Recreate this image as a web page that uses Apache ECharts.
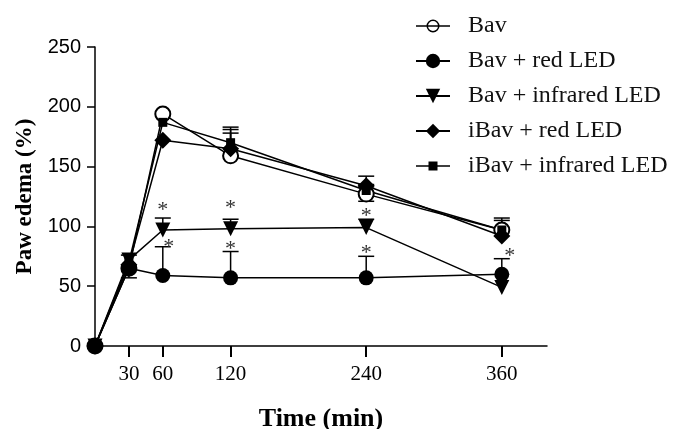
<!DOCTYPE html>
<html><head><meta charset="utf-8">
<script src="https://cdn.jsdelivr.net/npm/echarts@6/dist/echarts.min.js"></script>
<style>html,body{margin:0;padding:0;background:#fff}#c{width:675px;height:429px}</style>
</head><body><div id="c"></div>
<script>
const times = [0, 30, 60, 120, 240, 360];
const xTicks = [30, 60, 120, 240, 360];
const seriesNames = ['Bav', 'Bav + red LED', 'Bav + infrared LED', 'iBav + red LED', 'iBav + infrared LED'];
const bav     = [0, 65, 194, 159, 127, 97];
const bavRed  = [0, 65, 59, 57, 57, 60];
const bavIR   = [0, 72, 97, 98, 99, 49];
const ibavRed = [0, 68, 172, 165, 134, 92];
const ibavIR  = [0, 70, 187, 170, 130, 97];
// upper SEM
const bavErr     = [0, 0, 0, 19, 6, 10];
const bavRedErr  = [0, 0, 24, 22, 18, 13];
const bavIRErr   = [0, 4, 10, 8, 7, 0];
const ibavRedErr = [0, 0, 0, 16, 8, 0];
const ibavIRErr  = [0, 0, 0, 13, 5, 8];
// lower SEM
const bavLowErr    = [0, 0, 0, 0, 6, 0];
const bavRedLowErr = [0, 8, 0, 0, 0, 0];
// significance marks: [time, value]
const stars = [[60, 118], [120, 119], [240, 113], [60, 87], [120, 85], [240, 82], [360, 79]];
const starShift = [0, 0, 0, 6, 0, 0, 8];

const values = [bav, bavRed, bavIR, ibavRed, ibavIR];
const ups = [bavErr, bavRedErr, bavIRErr, ibavRedErr, ibavIRErr];
const lows = [bavLowErr, bavRedLowErr, null, null, null];
const symbols = ['emptyCircle', 'circle', 'triangle', 'diamond', 'rect'];
const sizes = [15, 15, 15, 17, 9];
const rot = [0, 0, 180, 0, 0];

const serif = '"Liberation Serif", "Times New Roman", serif';
const sans = '"Liberation Sans", Arial, sans-serif';

const legendIcons = [
  'path://M10.5,6.5A6.5,6.5 0 1,1 23.5,6.5A6.5,6.5 0 1,1 10.5,6.5ZM12,6.5A5,5 0 1,0 22,6.5A5,5 0 1,0 12,6.5ZM0,5.75H34V7.25H0Z',
  null, null, null,
  'path://M0,3.75H12.5V0H21.5V3.75H34V5.25H21.5V9H12.5V5.25H0Z'
];

const errData = [];
values.forEach((v, s) => {
  times.forEach((t, i) => {
    const up = ups[s][i], lo = lows[s] ? lows[s][i] : 0;
    if (up > 0 || lo > 0) errData.push([t, v[i], v[i] + up, v[i] - lo]);
  });
});

const series = values.map((v, s) => ({
  name: seriesNames[s],
  type: 'line',
  data: times.map((t, i) => [t, v[i]]),
  symbol: symbols[s],
  symbolSize: sizes[s],
  symbolRotate: rot[s],
  showAllSymbol: true,
  lineStyle: { color: '#000', width: 1.5 },
  itemStyle: { color: '#000', borderWidth: s === 0 ? 1.5 : 0 },
  z: 3
}));

series.push({
  type: 'custom',
  name: 'err',
  data: errData,
  z: 2,
  renderItem: function (params, api) {
    const x = api.coord([api.value(0), api.value(1)])[0];
    const yv = api.coord([0, api.value(1)])[1];
    const yt = api.coord([0, api.value(2)])[1];
    const yb = api.coord([0, api.value(3)])[1];
    const w = 8;
    const ch = [];
    if (yt < yv - 0.5) {
      ch.push({ type: 'line', shape: { x1: x, y1: yv, x2: x, y2: yt }, style: { stroke: '#000', lineWidth: 1.5 } });
      ch.push({ type: 'line', shape: { x1: x - w, y1: yt, x2: x + w, y2: yt }, style: { stroke: '#000', lineWidth: 1.5 } });
    }
    if (yb > yv + 0.5) {
      ch.push({ type: 'line', shape: { x1: x, y1: yv, x2: x, y2: yb }, style: { stroke: '#000', lineWidth: 1.5 } });
      ch.push({ type: 'line', shape: { x1: x - w, y1: yb, x2: x + w, y2: yb }, style: { stroke: '#000', lineWidth: 1.5 } });
    }
    return { type: 'group', children: ch };
  }
});

series.push({
  type: 'custom',
  name: 'stars',
  data: stars,
  z: 4,
  renderItem: function (params, api) {
    const p = api.coord([api.value(0), api.value(1)]);
    return {
      type: 'text',
      x: p[0] + starShift[params.dataIndex],
      y: p[1] + 5,
      style: { text: '*', fill: '#333', font: '22px ' + serif, align: 'center', verticalAlign: 'middle' }
    };
  }
});

const chart = echarts.init(document.getElementById('c'), null, { renderer: 'canvas' });
chart.setOption({
  animation: false,
  backgroundColor: '#fff',
  grid: { left: 95, right: 128, top: 47, bottom: 83, containLabel: false, outerBoundsMode: 'none' },
  legend: {
    data: seriesNames.map((n, i) => legendIcons[i] ? { name: n, icon: legendIcons[i] } : { name: n }),
    orient: 'vertical',
    left: 410,
    top: 9,
    itemWidth: 34,
    itemHeight: 18,
    itemGap: 11,
    textStyle: { fontFamily: serif, fontSize: 24, color: '#111', padding: [0, 0, 0, 13] }
  },
  xAxis: {
    type: 'value',
    min: 0,
    max: 400,
    name: 'Time (min)',
    nameLocation: 'middle',
    nameGap: 60,
    nameTextStyle: { fontFamily: serif, fontSize: 26, fontWeight: 'bold', color: '#000' },
    axisLine: { show: true, onZero: false, lineStyle: { color: '#000', width: 1.5 } },
    axisTick: { show: true, length: 11, customValues: xTicks, lineStyle: { color: '#000', width: 2 } },
    axisLabel: { customValues: xTicks, margin: 18, fontFamily: serif, fontSize: 21, color: '#000' },
    splitLine: { show: false }
  },
  yAxis: {
    type: 'value',
    min: 0,
    max: 250,
    interval: 50,
    name: 'Paw edema (%)',
    nameLocation: 'middle',
    nameGap: 57,
    nameRotate: 90,
    nameTextStyle: { fontFamily: serif, fontSize: 23, fontWeight: 'bold', color: '#000' },
    axisLine: { show: true, lineStyle: { color: '#000', width: 1.5 } },
    axisTick: { show: true, length: 8, lineStyle: { color: '#000', width: 1.5 } },
    axisLabel: { margin: 14, fontFamily: sans, fontSize: 20, color: '#000' },
    splitLine: { show: false }
  },
  series: series
});
</script></body></html>
